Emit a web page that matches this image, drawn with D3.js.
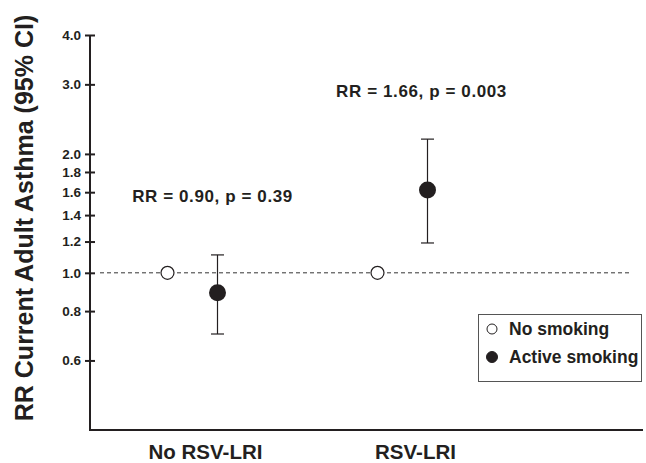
<!DOCTYPE html>
<html lang="en">
<head>
    <meta charset="utf-8"/>
    <title>RR Current Adult Asthma</title>
    <script src="https://d3js.org/d3.v7.min.js"></script>
    <style>
        html, body { margin: 0; padding: 0; background: #fff; }
        #chart { width: 646px; height: 463px; }
        text { font-family: "Liberation Sans", Arial, sans-serif; font-weight: bold; fill: #231f20; }
    </style>
</head>
<body>
    <div id="chart"></div>

    <script>
        // data
        const categories = ["No RSV-LRI", "RSV-LRI"];
        const noSmokingRR = [1.0, 1.0];
        const activeRR = [0.89, 1.62];
        const activeLower = [0.70, 1.19];
        const activeUpper = [1.11, 2.18];
        const annotations = ["RR = 0.90, p = 0.39", "RR = 1.66, p = 0.003"];
        const yTicks = [0.6, 0.8, 1.0, 1.2, 1.4, 1.6, 1.8, 2.0, 3.0, 4.0];
        const seriesNames = ["No smoking", "Active smoking"];

        const width = 646, height = 463;
        const axisX = 90, axisTop = 35, axisBottom = 430, axisRight = 643;

        const svg = d3.select('#chart')
            .append('svg')
            .attr('width', width)
            .attr('height', height);

        const y = d3.scaleLog()
            .domain([0.4, 4])
            .range([axisBottom, axisTop]);

        const x = d3.scalePoint()
            .domain(categories)
            .range([192.5, 402.5]);

        // reference line at RR = 1
        svg.append('line')
            .attr('x1', 100).attr('x2', 632)
            .attr('y1', y(1)).attr('y2', y(1))
            .attr('stroke', '#333')
            .attr('stroke-width', 1)
            .attr('stroke-dasharray', '4,3');

        // y axis
        const yAxis = svg.append('g')
            .attr('transform', `translate(${axisX},0)`)
            .call(d3.axisLeft(y)
                .tickValues(yTicks)
                .tickFormat(d3.format('.1f'))
                .tickSize(5)
                .tickPadding(4));
        yAxis.select('.domain').remove();
        yAxis.selectAll('.tick line')
            .attr('x1', -5).attr('x2', 5)
            .attr('stroke', '#231f20')
            .attr('stroke-width', 2);
        yAxis.selectAll('.tick text')
            .style('font-family', '"Liberation Sans", Arial, sans-serif')
            .style('font-weight', 'bold')
            .style('font-size', '13.5px')
            .attr('fill', '#231f20');

        // axis lines
        svg.append('path')
            .attr('d', `M${axisX},${axisTop}V${axisBottom}H${axisRight}`)
            .attr('fill', 'none')
            .attr('stroke', '#231f20')
            .attr('stroke-width', 2);

        // category labels
        svg.selectAll('.cat')
            .data(categories)
            .enter().append('text')
            .attr('class', 'cat')
            .attr('x', d => x(d) + 13)
            .attr('y', 459)
            .attr('text-anchor', 'middle')
            .style('font-size', '20.5px')
            .text(d => d);

        // y title
        svg.append('text')
            .attr('transform', `translate(33,218) rotate(-90)`)
            .attr('text-anchor', 'middle')
            .style('font-size', '25px')
            .text('RR Current Adult Asthma (95% CI)');

        // error bars for active smoking
        const offset = 25;
        const g = svg.append('g');
        categories.forEach((c, i) => {
            const cx = x(c) + offset;
            g.append('line')
                .attr('x1', cx).attr('x2', cx)
                .attr('y1', y(activeLower[i])).attr('y2', y(activeUpper[i]))
                .attr('stroke', '#231f20').attr('stroke-width', 1.2);
            [activeLower[i], activeUpper[i]].forEach(v => {
                g.append('line')
                    .attr('x1', cx - 6.5).attr('x2', cx + 6.5)
                    .attr('y1', y(v)).attr('y2', y(v))
                    .attr('stroke', '#231f20').attr('stroke-width', 1.2);
            });
        });

        // no smoking points
        g.selectAll('.open')
            .data(noSmokingRR)
            .enter().append('circle')
            .attr('class', 'open')
            .attr('cx', (d, i) => x(categories[i]) - offset)
            .attr('cy', d => y(d))
            .attr('r', 6.5)
            .attr('fill', '#fff')
            .attr('stroke', '#231f20')
            .attr('stroke-width', 1.2);

        // active smoking points
        g.selectAll('.filled')
            .data(activeRR)
            .enter().append('circle')
            .attr('class', 'filled')
            .attr('cx', (d, i) => x(categories[i]) + offset)
            .attr('cy', d => y(d))
            .attr('r', 8.5)
            .attr('fill', '#231f20');

        // RR / p annotations
        const annoPos = [{dx: 20, y: 202}, {dx: 19, y: 97}];
        svg.selectAll('.anno')
            .data(annotations)
            .enter().append('text')
            .attr('class', 'anno')
            .attr('x', (d, i) => x(categories[i]) + annoPos[i].dx)
            .attr('y', (d, i) => annoPos[i].y)
            .attr('text-anchor', 'middle')
            .style('font-size', '17px')
            .style('letter-spacing', '0.6px')
            .text(d => d);

        // legend
        const legend = svg.append('g');
        legend.append('rect')
            .attr('x', 478.5).attr('y', 314.5)
            .attr('width', 163).attr('height', 67)
            .attr('fill', '#fff')
            .attr('stroke', '#555')
            .attr('stroke-width', 1);
        seriesNames.forEach((name, i) => {
            const ly = 329 + i * 28;
            legend.append('circle')
                .attr('cx', 492).attr('cy', ly)
                .attr('r', i === 0 ? 5 : 5.5)
                .attr('fill', i === 0 ? '#fff' : '#231f20')
                .attr('stroke', '#231f20')
                .attr('stroke-width', 1);
            legend.append('text')
                .attr('x', 509).attr('y', ly + 6)
                .style('font-size', '17.5px')
                .text(name);
        });
    </script>
</body>
</html>
